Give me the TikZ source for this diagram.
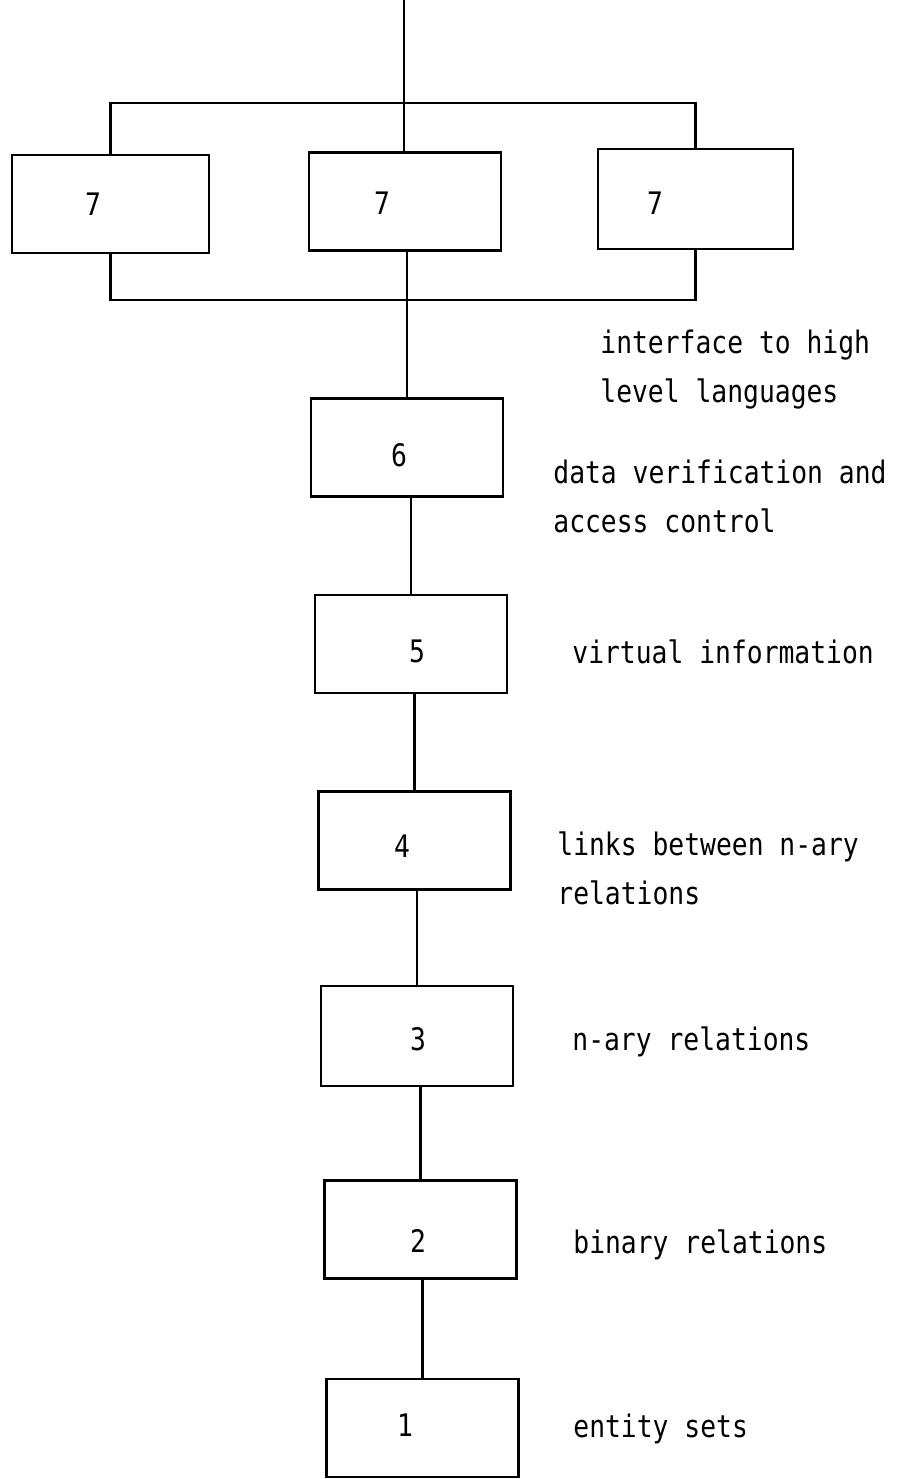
\documentclass[tikz,border=0pt]{standalone}
\usepackage{fontspec}
\newfontfamily\typer[FakeStretch=0.85]{DejaVu Sans Mono}

\begin{document}
\begin{tikzpicture}[
      x=0.5pt, y=-0.5pt,
      layer/.style={rectangle, draw, line width=1.2pt, minimum width=96pt, minimum height=49pt, inner sep=0pt},
      num/.style={font=\typer\fontsize{15.5}{24.5}\selectfont, anchor=base, inner sep=0pt},
      note/.style={font=\typer\fontsize{15.5}{24.5}\selectfont, anchor=base west, align=left, inner sep=0pt},
      wire/.style={line width=1.2pt}
    ]
    \useasboundingbox (0,0) rectangle (898,1479);

    % level 7, three copies side by side
    \node[layer, minimum width=98.5pt] (l7) at (110.5,204) {};
    \node[layer] (m7) at (405,201.5) {};
    \node[layer, minimum width=97.5pt, minimum height=50pt] (r7) at (695.5,199) {};

    % the column of levels
    \node[layer] (b6) at (407,447.5) {};
    \node[layer] (b5) at (411,644) {};
    \node[layer] (b4) at (414.5,840.5) {};
    \node[layer, minimum height=50pt] (b3) at (417,1036) {};
    \node[layer] (b2) at (420.5,1229.5) {};
    \node[layer] (b1) at (422.5,1428) {};

    \node[num] (n7a) at (93,215) {7};
    \node[num] (n7b) at (382,214) {7};
    \node[num] (n7c) at (655,214) {7};
    \node[num] (n6) at (399,466) {6};
    \node[num] (n5) at (417,662) {5};
    \node[num] (n4) at (402,857) {4};
    \node[num] (n3) at (418,1050) {3};
    \node[num] (n2) at (418,1252) {2};
    \node[num] (n1) at (405,1436) {1};

    % two-line notes sit on the baseline of their last line
    \node[note] (t7) at (600,402) {interface to high\\level languages};
    \node[note] (t6) at (553,532) {data verification and\\access control};
    \node[note] (t5) at (572,663) {virtual information};
    \node[note] (t4) at (557,904) {links between n-ary\\relations};
    \node[note] (t3) at (572,1050) {n-ary relations};
    \node[note] (t2) at (573,1253) {binary relations};
    \node[note] (t1) at (573,1437) {entity sets};

    % buses round the copies of 7
    \coordinate (in) at (404,0);
    \coordinate (upbus) at (404,103);
    \coordinate (lowbus) at (407,300);
    \draw[wire] (in) -- (upbus);
    \draw[wire] (l7.north) |- (upbus) -| (r7.north);
    \draw[wire] (upbus) -- (upbus |- m7.north);
    \draw[wire] (l7.south) |- (lowbus) -| (r7.south);
    \draw[wire] (lowbus |- m7.south) -- (lowbus) -- (b6.north);

    \foreach \hi/\lo in {b6/b5, b5/b4, b4/b3, b3/b2, b2/b1}
      \draw[wire] (\lo.north |- \hi.south) -- (\lo.north);
  \end{tikzpicture}
\end{document}
